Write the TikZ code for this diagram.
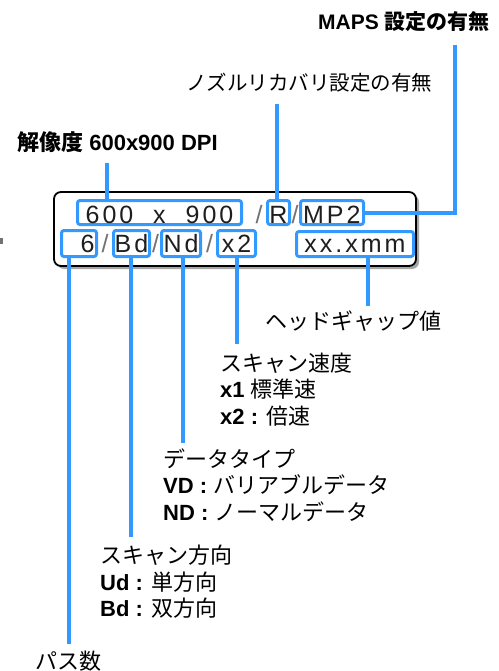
\documentclass[tikz,border=0pt]{standalone}
\usepackage{fontspec}
\setmainfont{Liberation Sans}
\newfontfamily\jpfont{Noto Sans CJK JP}
\newfontfamily\panelfont[LetterSpace=12]{Liberation Sans}
\usetikzlibrary{positioning, shadows}
\definecolor{fieldblue}{RGB}{51,153,255}
\definecolor{panelink}{RGB}{30,30,30}
\tikzset{
    panelframe/.style={
        rectangle,
        rounded corners=7pt,
        draw=black,
        line width=1.8pt,
        fill=white,
        drop shadow={shadow xshift=3pt, shadow yshift=-3pt, fill=black!35, opacity=1},
        minimum width=362pt,
        minimum height=74pt,
        inner sep=0pt
    },
    fieldbox/.style={
        rectangle,
        rounded corners=2.5pt,
        draw=fieldblue,
        line width=3pt,
        inner sep=0pt,
        text height=17pt,
        text depth=0pt,
        text=panelink,
        font=\panelfont\fontsize{25}{25}\selectfont
    },
    toprow/.style={text height=21pt, minimum height=24pt},
    slash/.style={
        inner sep=0pt,
        text height=17pt,
        text depth=0pt,
        text=black!55,
        font=\panelfont\fontsize{25}{25}\selectfont
    },
    callout/.style={
        anchor=base west,
        inner sep=0pt,
        align=left,
        font=\fontsize{22}{26.5}\selectfont
    },
    leader/.style={
        draw=fieldblue,
        line width=4pt
    }
}

\begin{document}
\begin{tikzpicture}[x=1pt, y=-1pt]
    \useasboundingbox (0,0) rectangle (498,671);
    \fill[black!55] (0,238) rectangle (2.5,244);

    \node[panelframe] (panel) at (235,229) {};

    % top row of the display
    \node[fieldbox, toprow, minimum width=164pt] (b600) at (159.5,212.5) {600~~x~~900};
    \node[slash, text height=21pt] (sl1) at (259,212.5) {/};
    \node[fieldbox, toprow, minimum width=22pt] (bR) at (278.5,212.5) {R};
    \node[slash, text height=21pt] (sl2) at (295,212.5) {/};
    \node[fieldbox, toprow, minimum width=63pt, text width=58pt, align=left] (bMP) at (332,212.5) {MP2};

    % bottom row of the display
    \node[fieldbox, minimum width=35pt, minimum height=26pt, text width=31pt, align=right] (b6) at (79,243.5) {6};
    \node[slash] (sl3) at (105,244) {/};
    \node[fieldbox, minimum width=36pt, minimum height=26pt] (bBd) at (131.5,243.5) {Bd};
    \node[slash] (sl4) at (155.5,244) {/};
    \node[fieldbox, minimum width=39pt, minimum height=26pt] (bNd) at (181,243.5) {Nd};
    \node[slash] (sl5) at (209.5,244) {/};
    \node[fieldbox, minimum width=38pt, minimum height=26pt] (bx2) at (236.5,243.5) {x2};
    \node[fieldbox, minimum width=117pt, minimum height=25pt] (bxx) at (355,244) {xx.xmm};

    % labels (multi-line ones sit on their last baseline)
    \node[callout, font=\bfseries\fontsize{21}{26.5}\selectfont] (mapslabel) at (318,29.5) {MAPS {\jpfont 設定の有無}};
    \node[callout, font=\fontsize{20.5}{26.5}\selectfont] (nozzlelabel) at (186,90.5) {\jpfont ノズルリカバリ設定の有無};
    \node[callout, font=\bfseries\fontsize{22}{26.5}\selectfont] (reslabel) at (17,150.5) {{\jpfont 解像度} 600x900 DPI};
    \node[callout] (gaplabel) at (265,329.5) {\jpfont ヘッドギャップ値};
    \node[callout] (speedlabel) at (220,424) {{\jpfont スキャン速度}\\\textbf{x1} {\jpfont 標準速}\\\textbf{x2 :} {\jpfont 倍速}};
    \node[callout] (typelabel) at (163,520) {{\jpfont データタイプ}\\\textbf{VD :} {\jpfont バリアブルデータ}\\\textbf{ND :} {\jpfont ノーマルデータ}};
    \node[callout] (dirlabel) at (100,616.5) {{\jpfont スキャン方向}\\\textbf{Ud :} {\jpfont 単方向}\\\textbf{Bd :} {\jpfont 双方向}};
    \node[callout] (passlabel) at (35,669.5) {\jpfont パス数};

    \coordinate (resend) at (107,163);
    \coordinate (nozzleend) at (277,104);
    \coordinate (mapsend) at (455,45);
    \coordinate (gapend) at (368,306);
    \coordinate (speedend) at (237,344);
    \coordinate (typeend) at (183,443);
    \coordinate (dirend) at (131,537);
    \coordinate (passend) at (69,644);

    \draw[leader] (resend) -- (resend |- b600.north);
    \draw[leader] (nozzleend) -- (nozzleend |- bR.north);
    \draw[leader] (mapsend) |- (bMP.east);
    \draw[leader] (bxx.south -| gapend) -- (gapend);
    \draw[leader] (bx2.south -| speedend) -- (speedend);
    \draw[leader] (bNd.south -| typeend) -- (typeend);
    \draw[leader] (bBd.south -| dirend) -- (dirend);
    \draw[leader] (b6.south -| passend) -- (passend);
\end{tikzpicture}
\end{document}
